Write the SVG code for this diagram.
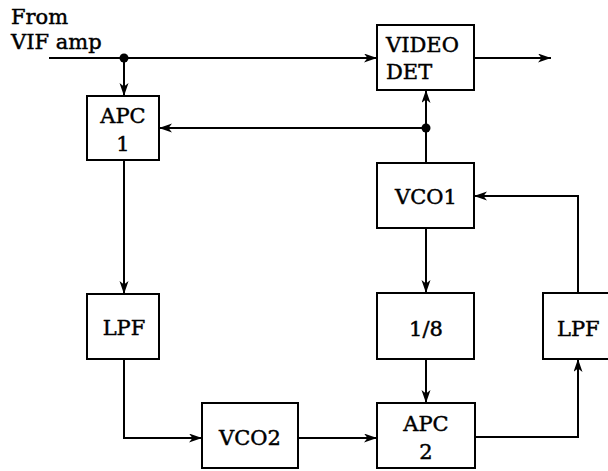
<svg xmlns="http://www.w3.org/2000/svg" width="608" height="471" viewBox="0 0 608 471">
<style>
.box{fill:#fff;stroke:#000;stroke-width:2}
.t{font-family:"DejaVu Serif","Liberation Serif",serif;font-size:21px;fill:#000;stroke:#000;stroke-width:0.45}
.c{text-anchor:middle}
.w{fill:none;stroke:#000;stroke-width:2}
</style>
<defs>
<marker id="a" markerUnits="userSpaceOnUse" markerWidth="14" markerHeight="10" refX="13" refY="4.5" orient="auto">
<path d="M0,0 L13,4.5 L0,9 L3.5,4.5 Z" fill="#000"/>
</marker>
</defs>
<rect width="608" height="471" fill="#fff"/>
<g id="connectors">
<path class="w" d="M49,58 H377" marker-end="url(#a)"/>
<path class="w" d="M124,58 V96" marker-end="url(#a)"/>
<path class="w" d="M474,58 H551" marker-end="url(#a)"/>
<path class="w" d="M426,163 V90" marker-end="url(#a)"/>
<path class="w" d="M426,128 H159" marker-end="url(#a)"/>
<path class="w" d="M124,160 V294" marker-end="url(#a)"/>
<path class="w" d="M426,228 V293" marker-end="url(#a)"/>
<path class="w" d="M124,359 V438 H202" marker-end="url(#a)"/>
<path class="w" d="M298,438 H377" marker-end="url(#a)"/>
<path class="w" d="M426,359 V403" marker-end="url(#a)"/>
<path class="w" d="M475,437 H578 V359" marker-end="url(#a)"/>
<path class="w" d="M578,293 V196 H474" marker-end="url(#a)"/>
<circle cx="124" cy="58" r="4.5" fill="#000"/>
<circle cx="426" cy="128" r="4.5" fill="#000"/>
</g>
<g id="input-label">
<text class="t" x="11" y="24">From</text>
<text class="t" x="11" y="49">VIF amp</text>
</g>
<g id="video-det">
<rect class="box" x="377" y="25" width="97" height="65"/>
<text class="t" x="386" y="52">VIDEO</text>
<text class="t" x="386" y="79">DET</text>
</g>
<g id="apc1">
<rect class="box" x="87" y="96" width="72" height="64"/>
<text class="t c" x="123" y="123">APC</text>
<text class="t c" x="123" y="151">1</text>
</g>
<g id="vco1">
<rect class="box" x="377" y="163" width="97" height="65"/>
<text class="t c" x="426" y="204">VCO1</text>
</g>
<g id="lpf1">
<rect class="box" x="87" y="294" width="72" height="65"/>
<text class="t c" x="124" y="335">LPF</text>
</g>
<g id="div8">
<rect class="box" x="377" y="293" width="97" height="66"/>
<text class="t c" x="426" y="336">1/8</text>
</g>
<g id="lpf2">
<rect class="box" x="543" y="293" width="75" height="66"/>
<text class="t" x="557" y="336">LPF</text>
</g>
<g id="vco2">
<rect class="box" x="202" y="403" width="96" height="65"/>
<text class="t c" x="250" y="445">VCO2</text>
</g>
<g id="apc2">
<rect class="box" x="377" y="403" width="98" height="65"/>
<text class="t c" x="426" y="431">APC</text>
<text class="t c" x="426" y="459">2</text>
</g>
</svg>
